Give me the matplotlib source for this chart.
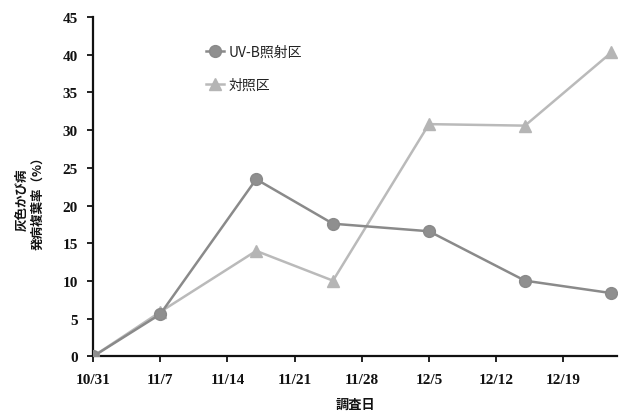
import datetime as dt
import matplotlib
matplotlib.use("Agg")
import matplotlib.pyplot as plt

plt.rcParams['font.family'] = ['Noto Sans CJK JP', 'DejaVu Sans']

# Survey dates and infection rates (%)
survey_dates = ["2000-10-31", "2000-11-07", "2000-11-17", "2000-11-25",
                "2000-12-05", "2000-12-15", "2000-12-24"]
uvb_rate = [0.0, 5.6, 23.5, 17.6, 16.6, 10.05, 8.4]
control_rate = [0.0, 5.9, 14.0, 10.05, 30.8, 30.6, 40.3]

tick_dates = ["2000-10-31", "2000-11-07", "2000-11-14", "2000-11-21",
              "2000-11-28", "2000-12-05", "2000-12-12", "2000-12-19"]
tick_labels = ["10/31", "11/7", "11/14", "11/21", "11/28", "12/5", "12/12", "12/19"]
y_ticks = [0, 5, 10, 15, 20, 25, 30, 35, 40, 45]

label_uvb = "UV-B照射区"
label_control = "対照区"

to_date = lambda s: dt.datetime.strptime(s, "%Y-%m-%d")
x = [to_date(s) for s in survey_dates]
xt = [to_date(s) for s in tick_dates]

fig = plt.figure(figsize=(6.24, 4.14), dpi=100)
ax = fig.add_axes([0.149, 0.1365, 0.84, 0.82])

ax.plot(x, uvb_rate, color="#8a8a8a", lw=1.8, marker="o", ms=8.5,
        mfc="#8f8f8f", mec="#8a8a8a", label=label_uvb, zorder=3)
ax.plot(x, control_rate, color="#bababa", lw=1.8, marker="^", ms=9,
        mfc="#b5b5b5", mec="#b5b5b5", label=label_control, zorder=2)

ax.set_xlim(to_date("2000-10-31"), to_date("2000-12-24") + dt.timedelta(days=0.6))
ax.set_ylim(0, 45)
ax.set_xticks(xt)
ax.set_xticklabels(tick_labels)
ax.set_yticks(y_ticks)

for s in ("top", "right"):
    ax.spines[s].set_visible(False)
for s in ("left", "bottom"):
    ax.spines[s].set_linewidth(1.6)
    ax.spines[s].set_color("#111111")

ax.tick_params(axis="both", direction="out", length=4, width=1.3, color="#111111")
for lab in ax.get_xticklabels() + ax.get_yticklabels():
    lab.set_fontfamily(["Liberation Serif", "DejaVu Serif"])
    lab.set_fontweight("bold")
    lab.set_fontsize(11)
    lab.set_color("#111111")
ax.tick_params(axis="x", pad=8)
ax.tick_params(axis="y", pad=7)

fig.text(0.048, 0.517, "灰色かび病\n発病複葉率（%）", rotation=90, ha="center",
         va="center", fontsize=9, fontweight="bold", linespacing=1.25,
         color="#111111")
fig.text(0.569, 0.022, "調査日", ha="center", va="center", fontsize=9.5,
         fontweight="bold", color="#111111")

leg = ax.legend(loc="upper left", bbox_to_anchor=(0.205, 0.935), frameon=False,
                handlelength=1.3, handletextpad=0.3, labelspacing=1.35,
                prop={"family": ["Noto Sans CJK JP"], "size": 10}, borderaxespad=0)
for t in leg.get_texts():
    t.set_color("#222222")

fig.savefig("out.png", dpi=100, facecolor="white")
